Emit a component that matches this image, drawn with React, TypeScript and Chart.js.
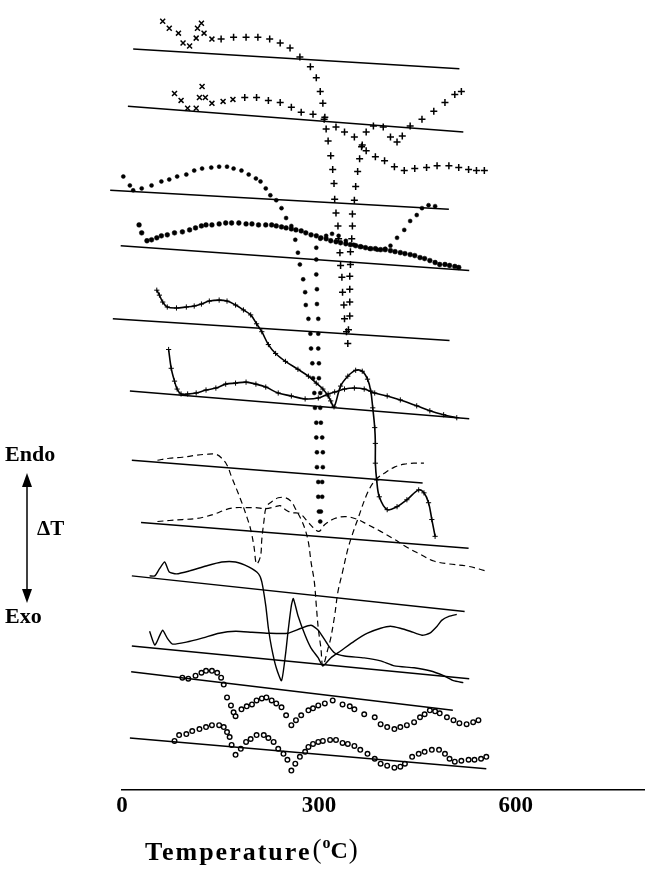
import React, { useEffect, useRef } from "react";
import { Chart, registerables } from "chart.js";

Chart.register(...registerables);

// x: temperature (°C); y: ΔT offset (arbitrary units, curves stacked)
const TICKS = [0, 300, 600];

// straight base lines (start/end temperature and level)
const blT0 = [17, 9, -18, -2, -14, 12, 15, 29, 15, 15, 14, 12];
const blT1 = [514, 520, 498, 529, 499, 529, 458, 528, 522, 529, 504, 555];
const blV0 = [749, 691, 606, 550, 476, 403, 333, 270, 216, 145, 119, 52];
const blV1 = [729, 665, 587, 525, 454, 375, 310, 244, 180, 112, 80, 21];

// curve 1 (+ / x markers)
const c1T = [62, 72, 86, 93, 103, 113, 115, 121, 125, 137, 151, 170, 189, 207, 225, 241, 256, 271, 287, 296, 302, 306, 309, 311, 314, 318, 321, 323, 324, 326, 329, 330, 332, 333, 335, 336, 338, 339, 342, 344, 345, 347, 347, 347, 347, 348, 348, 350, 351, 351, 354, 356, 359, 362, 365, 372, 386, 400, 415, 430, 446, 464, 480, 498, 513, 528, 540, 552];
const c1V = [777, 770, 765, 755, 752, 760, 770, 775, 765, 759, 759, 761, 761, 761, 759, 755, 750, 741, 731, 720, 706, 694, 680, 668, 656, 641, 627, 613, 597, 583, 570, 557, 543, 530, 518, 503, 490, 476, 463, 451, 465, 479, 493, 506, 519, 531, 544, 557, 570, 582, 596, 610, 625, 638, 650, 646, 640, 636, 630, 626, 628, 629, 631, 631, 629, 627, 626, 626];

// curve 2 (+ / x markers)
const c2T = [80, 90, 100, 113, 118, 122, 127, 137, 154, 169, 187, 205, 223, 241, 258, 273, 291, 308, 326, 339, 354, 366, 372, 383, 398, 409, 419, 427, 439, 457, 475, 492, 507, 517];
const c2V = [704, 697, 689, 689, 700, 711, 700, 694, 696, 698, 700, 700, 697, 695, 690, 685, 683, 678, 670, 665, 660, 652, 665, 671, 670, 660, 655, 661, 671, 678, 686, 695, 703, 706];

// curve 3 (small dots)
const c3T = [2, 12, 17, 30, 45, 60, 72, 84, 98, 110, 122, 136, 148, 160, 170, 182, 193, 204, 211, 219, 226, 235, 243, 250, 258, 264, 268, 271, 276, 279, 280, 284, 287, 288, 290, 291, 293, 294, 296, 296, 297, 297, 299, 299, 300, 302, 303, 305, 305, 306, 306, 305, 303, 302, 302, 300, 300, 299, 299, 299, 297, 297, 296, 296, 296, 302, 311, 320, 330, 341, 353, 365, 377, 389, 401, 409, 419, 430, 439, 449, 457, 467, 477];
const c3V = [620, 611, 606, 608, 611, 615, 617, 620, 622, 626, 628, 629, 630, 630, 628, 626, 622, 618, 615, 608, 601, 596, 588, 578, 570, 556, 543, 531, 516, 503, 490, 476, 461, 446, 431, 416, 401, 386, 371, 356, 341, 326, 311, 296, 281, 271, 281, 296, 311, 326, 341, 356, 371, 386, 401, 416, 431, 446, 461, 476, 491, 506, 521, 536, 548, 557, 560, 562, 560, 555, 551, 549, 547, 546, 547, 550, 558, 566, 575, 581, 588, 591, 590];

// curve 4 (large dots)
const c4T = [26, 30, 38, 45, 53, 60, 69, 80, 92, 103, 112, 121, 128, 137, 148, 158, 167, 178, 189, 198, 208, 219, 228, 235, 243, 250, 258, 265, 273, 280, 288, 296, 303, 311, 318, 326, 333, 341, 348, 356, 363, 371, 379, 386, 394, 401, 409, 416, 424, 431, 439, 446, 454, 461, 469, 477, 484, 492, 499, 507, 513];
const c4V = [571, 563, 555, 556, 558, 560, 561, 563, 564, 566, 568, 570, 571, 571, 572, 573, 573, 573, 572, 572, 571, 571, 571, 570, 569, 568, 567, 566, 565, 563, 561, 560, 558, 557, 555, 554, 553, 552, 551, 550, 549, 548, 547, 547, 546, 546, 545, 544, 543, 542, 541, 540, 538, 537, 535, 533, 531, 531, 530, 529, 528];

// curve 5 (line with small crosses)
const c5T = [53, 57, 62, 69, 83, 98, 110, 121, 133, 148, 160, 173, 185, 196, 205, 213, 223, 234, 249, 268, 284, 296, 306, 314, 318, 323, 333, 344, 356, 366, 374, 379, 382, 385, 386, 386, 388, 392, 404, 419, 434, 452, 460, 467, 472, 477];
const c5V = [505, 500, 493, 488, 487, 488, 489, 491, 494, 495, 494, 490, 485, 480, 471, 463, 450, 441, 433, 425, 418, 411, 405, 398, 393, 387, 408, 418, 424, 423, 415, 403, 386, 366, 350, 330, 313, 296, 283, 286, 293, 303, 300, 290, 273, 256];

// curve 6 (line with small crosses)
const c6T = [71, 75, 80, 84, 90, 100, 113, 128, 143, 158, 173, 189, 204, 219, 238, 258, 279, 299, 314, 324, 339, 354, 369, 385, 404, 424, 449, 469, 490, 510];
const c6V = [445, 426, 413, 405, 400, 400, 401, 404, 406, 410, 411, 412, 410, 407, 401, 398, 395, 396, 400, 402, 405, 406, 405, 401, 398, 394, 388, 383, 379, 376];

// curve 7 (dashed)
const c7T = [54, 72, 92, 113, 128, 143, 152, 160, 167, 175, 182, 190, 196, 201, 205, 211, 213, 216, 220, 228, 238, 249, 258, 265, 273, 279, 284, 288, 293, 296, 299, 303, 306, 314, 318, 324, 329, 336, 344, 351, 359, 374, 386, 400, 415, 430, 445, 460];
const c7V = [333, 335, 336, 338, 339, 339, 335, 328, 316, 303, 291, 276, 263, 246, 228, 236, 253, 270, 286, 291, 295, 295, 291, 283, 273, 263, 250, 230, 210, 186, 163, 143, 125, 143, 153, 176, 200, 220, 243, 258, 273, 300, 313, 320, 326, 329, 330, 330];

// curve 8 (dashed)
const c8T = [54, 72, 92, 113, 128, 143, 158, 173, 189, 204, 219, 234, 241, 249, 258, 271, 284, 291, 300, 309, 324, 341, 359, 374, 394, 415, 434, 454, 475, 499, 525, 544, 558];
const c8V = [271, 272, 273, 274, 276, 279, 283, 285, 285, 285, 284, 286, 287, 283, 280, 279, 270, 265, 261, 268, 274, 276, 273, 268, 261, 253, 245, 238, 231, 228, 226, 223, 220];

// curve 9 (solid)
const c9T = [42, 50, 57, 65, 72, 83, 103, 128, 152, 173, 193, 208, 213, 219, 223, 228, 235, 243, 249, 253, 258, 261, 268, 279, 288, 299, 306, 318, 333, 354, 374, 394, 409, 424, 439, 457, 469, 480, 487, 498, 510];
const c9V = [216, 216, 223, 230, 220, 218, 221, 226, 230, 230, 225, 218, 210, 186, 163, 143, 123, 110, 136, 160, 186, 193, 176, 156, 143, 133, 125, 133, 140, 150, 158, 163, 165, 163, 160, 156, 158, 165, 171, 175, 177];

// curve 10 (solid)
const c10T = [42, 50, 57, 62, 69, 77, 98, 122, 148, 173, 198, 223, 253, 273, 288, 299, 314, 324, 339, 369, 394, 415, 445, 469, 490, 505, 520];
const c10V = [160, 146, 155, 161, 153, 147, 149, 153, 158, 160, 159, 158, 158, 163, 166, 161, 146, 138, 135, 133, 130, 125, 123, 120, 115, 110, 108];

// curve 11 (open circles)
const c11T = [92, 101, 112, 121, 128, 137, 145, 151, 155, 160, 166, 170, 173, 182, 190, 198, 205, 213, 220, 228, 235, 243, 250, 258, 265, 273, 284, 291, 299, 309, 321, 336, 347, 354, 369, 385, 394, 404, 415, 424, 434, 445, 454, 461, 469, 477, 484, 495, 505, 514, 525, 535, 543];
const c11V = [113, 112, 115, 118, 120, 120, 118, 113, 106, 93, 85, 78, 74, 81, 84, 86, 90, 92, 93, 90, 87, 83, 75, 65, 70, 75, 80, 82, 85, 87, 90, 86, 84, 81, 76, 73, 66, 63, 61, 63, 65, 68, 73, 76, 80, 79, 77, 73, 70, 67, 66, 68, 70];

// curve 12 (open circles)
const c12T = [80, 87, 98, 107, 118, 128, 137, 148, 155, 160, 164, 167, 173, 181, 189, 196, 205, 216, 223, 231, 238, 246, 252, 258, 264, 271, 279, 284, 291, 299, 306, 317, 326, 336, 344, 354, 363, 374, 385, 394, 404, 415, 424, 431, 442, 452, 461, 472, 483, 492, 499, 507, 517, 528, 537, 547, 555];
const c12V = [49, 55, 56, 59, 61, 63, 65, 65, 63, 58, 53, 45, 35, 41, 48, 51, 55, 55, 52, 48, 41, 36, 30, 19, 26, 33, 38, 43, 46, 48, 49, 50, 50, 47, 46, 44, 40, 36, 31, 26, 24, 22, 23, 26, 33, 36, 38, 40, 40, 36, 31, 28, 29, 30, 30, 31, 33];

const pts = (t: number[], v: number[]) => t.map((x, i) => ({ x, y: v[i] }));

const SERIF = '"Liberation Serif", "DejaVu Serif", serif';

const labelPlugin = {
  id: "dtaLabels",
  afterDraw(chart: any) {
    const ctx = chart.ctx as CanvasRenderingContext2D;
    ctx.save();
    ctx.fillStyle = "#000";
    ctx.strokeStyle = "#000";
    ctx.textBaseline = "alphabetic";
    ctx.textAlign = "left";
    ctx.font = `bold 22px ${SERIF}`;
    ctx.fillText("Endo", 5, 461);
    ctx.fillText("Exo", 5, 623);
    ctx.font = `bold 21px ${SERIF}`;
    ctx.fillText("ΔT", 37, 535);
    // double arrow
    ctx.lineWidth = 1.5;
    ctx.beginPath();
    ctx.moveTo(27, 482);
    ctx.lineTo(27, 594);
    ctx.stroke();
    ctx.beginPath();
    ctx.moveTo(27, 473);
    ctx.lineTo(22, 487);
    ctx.lineTo(32, 487);
    ctx.closePath();
    ctx.fill();
    ctx.beginPath();
    ctx.moveTo(27, 603);
    ctx.lineTo(22, 589);
    ctx.lineTo(32, 589);
    ctx.closePath();
    ctx.fill();
    // axis title
    let x = 145;
    const yb = 860;
    (ctx as any).letterSpacing = "2px";
    ctx.font = `bold 26px ${SERIF}`;
    ctx.fillText("Temperature", x, yb);
    x += ctx.measureText("Temperature").width + 1;
    (ctx as any).letterSpacing = "0px";
    ctx.font = `27px ${SERIF}`;
    ctx.fillText("(", x, yb - 2);
    x += ctx.measureText("(").width + 1;
    ctx.font = `bold 16px ${SERIF}`;
    ctx.fillText("o", x, yb - 12);
    x += ctx.measureText("o").width;
    ctx.font = `bold 24px ${SERIF}`;
    ctx.fillText("C", x, yb - 2);
    x += ctx.measureText("C").width + 1;
    ctx.font = `27px ${SERIF}`;
    ctx.fillText(")", x, yb - 2);
    ctx.restore();
  },
};

export default function App() {
  const ref = useRef<HTMLCanvasElement | null>(null);
  useEffect(() => {
    if (!ref.current) return;
    const black = "#000";
    const baseSets = blT0.map((t0, i) => ({
      data: [
        { x: t0, y: blV0[i] },
        { x: blT1[i], y: blV1[i] },
      ],
      showLine: true,
      borderColor: black,
      borderWidth: 1.5,
      pointRadius: 0,
      clip: false as any,
    }));
    const crossStyle = (ctx: any) => (ctx.dataIndex < 10 ? "crossRot" : "cross");
    const markerSet = (t: number[], v: number[], style: any, r: number, bw: number, bg = black) => ({
      data: pts(t, v),
      showLine: false,
      pointStyle: style,
      pointRadius: r,
      pointBorderWidth: bw,
      pointBorderColor: black,
      pointBackgroundColor: bg,
      borderColor: black,
      backgroundColor: bg,
      clip: false as any,
    });
    const lineSet = (t: number[], v: number[], opts: any) => ({
      data: pts(t, v),
      showLine: true,
      borderColor: black,
      pointRadius: 0,
      clip: false as any,
      ...opts,
    });
    const datasets: any[] = [
      ...baseSets,
      markerSet(c1T, c1V, crossStyle, 3.5, 1.5),
      markerSet(c2T, c2V, crossStyle, 3.5, 1.5),
      markerSet(c3T, c3V, "circle", 2.0, 0.5),
      markerSet(c4T, c4V, "circle", 2.4, 0.5),
      lineSet(c5T, c5V, { borderWidth: 1.6, tension: 0.35, pointRadius: 2.6, pointStyle: "cross", pointBorderWidth: 1, pointBorderColor: black }),
      lineSet(c6T, c6V, { borderWidth: 1.6, tension: 0.35, pointRadius: 2.6, pointStyle: "cross", pointBorderWidth: 1, pointBorderColor: black }),
      lineSet(c7T, c7V, { borderWidth: 1.2, tension: 0.35, borderDash: [6, 4] }),
      lineSet(c8T, c8V, { borderWidth: 1.2, tension: 0.35, borderDash: [6, 4] }),
      lineSet(c9T, c9V, { borderWidth: 1.4, tension: 0.2 }),
      lineSet(c10T, c10V, { borderWidth: 1.4, tension: 0.2 }),
      markerSet(c11T, c11V, "circle", 2.3, 1.4, "#fff"),
      markerSet(c12T, c12V, "circle", 2.3, 1.4, "#fff"),
    ];
    const chart = new Chart(ref.current, {
      type: "scatter",
      data: { datasets },
      plugins: [labelPlugin as any],
      options: {
        animation: false,
        responsive: false,
        maintainAspectRatio: false,
        layout: { padding: { left: 122, right: 0, top: 0, bottom: 48 } },
        plugins: { legend: { display: false }, tooltip: { enabled: false }, title: { display: false } },
        scales: {
          x: {
            type: "linear",
            min: 0,
            max: 796,
            afterBuildTicks: (scale: any) => {
              scale.ticks = TICKS.map((v) => ({ value: v }));
            },
            afterFit: (scale: any) => {
              scale.paddingLeft = 0;
              scale.paddingRight = 0;
            },
            grid: { display: false, drawTicks: false },
            border: { display: true, color: black, width: 1.5 },
            ticks: {
              color: black,
              padding: 3,
              maxRotation: 0,
              autoSkip: false,
              font: { family: SERIF, size: 23, weight: "bold" },
            },
          },
          y: { type: "linear", min: 0, max: 793, display: false },
        },
      },
    });
    return () => chart.destroy();
  }, []);
  return (
    <div style={{ position: "absolute", left: 0, top: 0, width: 650, height: 871, background: "#fff" }}>
      <canvas ref={ref} width={650} height={871} />
    </div>
  );
}
